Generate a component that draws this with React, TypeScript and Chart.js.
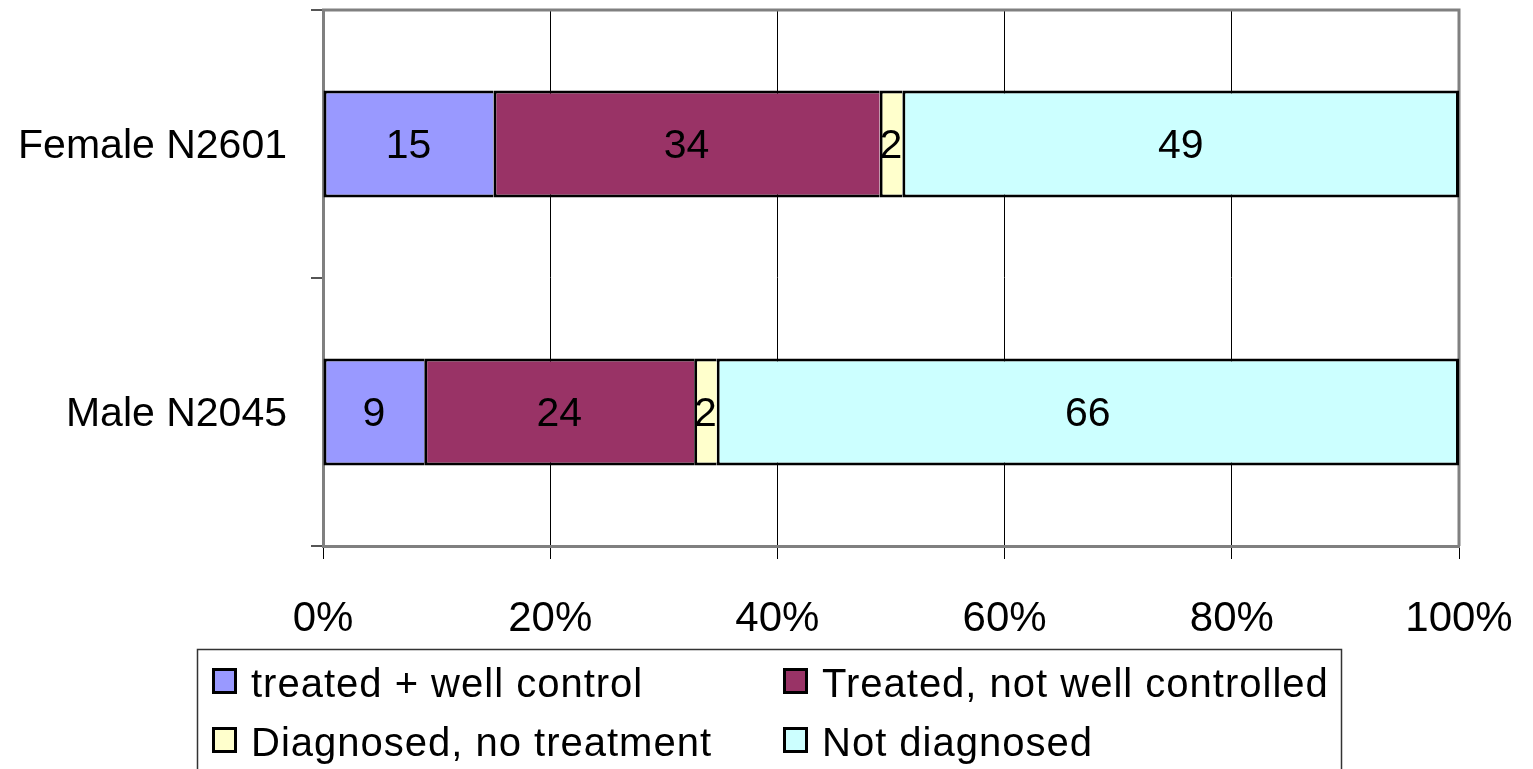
import React, { useEffect, useRef } from "react";
import { Chart, registerables } from "chart.js";

Chart.register(...registerables);

// Survey groups (top to bottom)
const categories = ["Female N2601", "Male N2045"];

// Status shares per group, in percent as labelled
const seriesNames = [
  "treated + well control",
  "Treated, not well controlled",
  "Diagnosed, no treatment",
  "Not diagnosed",
];
const treatedWell = [15, 9];
const treatedNotWell = [34, 24];
const diagnosedNoTreatment = [2, 2];
const notDiagnosed = [49, 66];

const seriesColors = ["#9999FF", "#993366", "#FFFFCC", "#CCFFFF"];
const xTickValues = [0, 20, 40, 60, 80, 100];

const FONT = '"Liberation Sans", Arial, sans-serif';

const seriesValues = [treatedWell, treatedNotWell, diagnosedNoTreatment, notDiagnosed];
// 100% stacked: each group's segments scaled by the group total
const groupTotals = categories.map((_, i) =>
  seriesValues.reduce((s, arr) => s + arr[i], 0)
);

const overlayPlugin = {
  id: "overlay",
  beforeDatasetsDraw(chart: any) {
    const { ctx, chartArea } = chart;
    ctx.save();
    ctx.strokeStyle = "#808080";
    ctx.lineWidth = 3;
    ctx.beginPath();
    ctx.moveTo(chartArea.left - 1, chartArea.top);
    ctx.lineTo(chartArea.right, chartArea.top);
    ctx.lineTo(chartArea.right, chartArea.bottom);
    ctx.stroke();
    ctx.restore();
  },
  afterDatasetsDraw(chart: any) {
    const { ctx } = chart;
    ctx.save();
    ctx.font = `41px ${FONT}`;
    ctx.fillStyle = "#000";
    ctx.textAlign = "center";
    ctx.textBaseline = "middle";
    chart.data.datasets.forEach((ds: any, di: number) => {
      const meta = chart.getDatasetMeta(di);
      meta.data.forEach((bar: any, i: number) => {
        const cx = (bar.x + bar.base) / 2;
        ctx.fillText(String(ds.rawValues[i]), cx, bar.y + 3);
      });
    });
    ctx.restore();
  },
  afterDraw(chart: any) {
    const { ctx } = chart;
    ctx.save();
    // legend frame
    ctx.strokeStyle = "#333";
    ctx.lineWidth = 1.5;
    ctx.strokeRect(197.5, 649.5, 1144, 140);
    const cols = [212, 783];
    const rows = [668, 727];
    ctx.font = `40px ${FONT}`;
    (ctx as any).letterSpacing = "1px";
    ctx.textAlign = "left";
    ctx.textBaseline = "alphabetic";
    seriesNames.forEach((name, i) => {
      const x = cols[i % 2];
      const y = rows[Math.floor(i / 2)];
      ctx.fillStyle = seriesColors[i];
      ctx.fillRect(x, y, 25, 26);
      ctx.strokeStyle = "#000";
      ctx.lineWidth = 3;
      ctx.strokeRect(x + 1.5, y + 1.5, 22, 23);
      ctx.fillStyle = "#000";
      ctx.fillText(name, x + 39, y + 29);
    });
    ctx.restore();
  },
};

export default function App() {
  const canvasRef = useRef<HTMLCanvasElement | null>(null);

  useEffect(() => {
    const canvas = canvasRef.current;
    if (!canvas) return;
    const datasets = seriesValues.map((vals, si) => ({
      label: seriesNames[si],
      data: vals.map((v, i) => (v / groupTotals[i]) * 100),
      rawValues: vals,
      backgroundColor: seriesColors[si],
      borderColor: "#000",
      borderWidth: {
        left: 3,
        top: 3,
        bottom: 3,
        right: si === seriesValues.length - 1 ? 3 : 0,
      },
      borderSkipped: false,
      categoryPercentage: 1,
      barPercentage: 0.4,
    }));

    const chart = new Chart(canvas, {
      type: "bar",
      data: { labels: categories, datasets: datasets as any },
      options: {
        indexAxis: "y",
        responsive: false,
        animation: false,
        layout: { padding: { top: 10, right: 74, bottom: 0, left: 0 } },
        plugins: {
          legend: { display: false },
          tooltip: { enabled: false },
        },
        scales: {
          x: {
            stacked: true,
            min: 0,
            max: 100,
            afterFit: (scale: any) => {
              scale.height = 223;
              scale.paddingLeft = 0;
              scale.paddingRight = 0;
              scale.paddingTop = 0;
              scale.paddingBottom = 0;
            },
            afterBuildTicks: (scale: any) => {
              scale.ticks = xTickValues.map((v) => ({ value: v }));
            },
            ticks: {
              callback: (v: any) => `${v}%`,
              font: { family: FONT, size: 42 },
              color: "#000",
              padding: 35,
              maxRotation: 0,
            },
            grid: {
              color: "#000",
              lineWidth: 1,
              tickLength: 13,
              drawTicks: true,
            },
            border: { color: "#808080", width: 3 },
          },
          y: {
            stacked: true,
            afterFit: (scale: any) => {
              scale.width = 323;
              scale.paddingLeft = 0;
              scale.paddingRight = 0;
              scale.paddingTop = 0;
              scale.paddingBottom = 0;
            },
            ticks: {
              font: { family: FONT, size: 41 },
              color: "#000",
              padding: 24,
              labelOffset: 3,
            },
            grid: {
              offset: true,
              drawOnChartArea: false,
              drawTicks: true,
              tickLength: 12,
              color: "#555",
              lineWidth: 2,
            },
            border: { color: "#808080", width: 3 },
          },
        },
      },
      plugins: [overlayPlugin],
    });
    return () => chart.destroy();
  }, []);

  return (
    <div style={{ position: "fixed", left: 0, top: 0, width: 1533, height: 769, background: "#fff" }}>
      <canvas ref={canvasRef} width={1533} height={769} style={{ display: "block" }} />
    </div>
  );
}
